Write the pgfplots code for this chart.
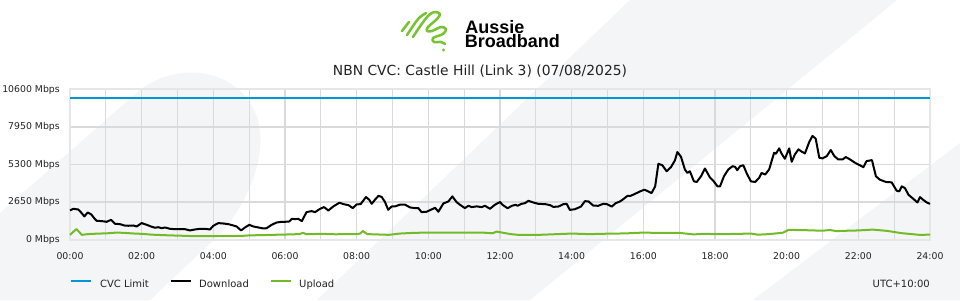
\documentclass[border=0pt]{standalone}
\usepackage{fontspec}
\setmainfont{DejaVu Sans}
\newfontfamily\logofont{Liberation Sans}
\usepackage{pgfplots}
\pgfplotsset{compat=1.18}
\definecolor{cvcblue}{RGB}{0,150,214}
\definecolor{upgreen}{RGB}{114,187,38}
\definecolor{logogreen}{RGB}{118,196,48}
\definecolor{swoosh}{RGB}{244,245,247}
\definecolor{gridgray}{RGB}{218,218,218}
\definecolor{framegray}{RGB}{230,230,230}
\definecolor{txt}{RGB}{34,34,34}

\begin{document}
\begin{tikzpicture}
\useasboundingbox (0,0) rectangle (720pt,225pt);
\fill[white] (0,0) rectangle (720pt,225pt);
\begin{scope}[yshift=225pt,x=0.75pt,y=-0.75pt]
  % background swooshes
  \fill[swoosh] (0,213) -- (140,90) .. controls (175,62) and (240,65) .. (258,120)
        .. controls (268,160) and (245,205) .. (222,232) -- (150,300) -- (0,300) -- cycle;
  \fill[swoosh] (630,0) -- (897,0) -- (530,300) -- (317,300) -- cycle;
  \fill[swoosh] (960,143) -- (960,300) -- (753,300) -- cycle;
  % logo icon
  \begin{scope}[logogreen, line width=1.9pt, line cap=round, line join=round]
    \draw (402,31) -- (409,22);
    \draw plot[smooth, tension=0.6] coordinates {(407,35) (413,26) (419,18) (426,13)};
    \draw plot[smooth, tension=0.55] coordinates {(413,37) (421,25) (429,15) (435,12) (440,14) (437,19) (428,27) (427,31) (432,31) (441,27) (446,29) (443,34) (433,38) (434,42) (441,42) (445,44)};
    \fill (443.5,50) circle (1.3pt);
  \end{scope}
  \node[anchor=base west, inner sep=0pt, font=\logofont\bfseries\fontsize{13.5}{14}\selectfont] at (465,33.3) {Aussie};
  \node[anchor=base west, inner sep=0pt, font=\logofont\bfseries\fontsize{13.5}{14}\selectfont] at (464.5,47.7) {Broadband};
  % title
  \node[anchor=base, inner sep=0pt, text=txt, font=\fontsize{10.4}{12}\selectfont] at (480,75.5) {NBN CVC: Castle Hill (Link 3) (07/08/2025)};
\end{scope}

\begin{axis}[
  at={(52.5pt,45.375pt)}, anchor=south west,
  scale only axis, width=645pt, height=112.5pt,
  xmin=0, xmax=24, ymin=0, ymax=10600,
  scaled y ticks=false, scaled x ticks=false,
  xtick={0,2,...,24}, minor xtick={1,3,...,23},
  xticklabels={00:00,02:00,04:00,06:00,08:00,10:00,12:00,14:00,16:00,18:00,20:00,22:00,24:00},
  ytick={0,2650,5300,7950,10600},
  yticklabels={0 Mbps,2650 Mbps,5300 Mbps,7950 Mbps,10600 Mbps},
  grid=both,
  major grid style={gridgray, line width=0.9pt},
  minor grid style={gridgray, line width=0.9pt},
  axis line style={framegray, line width=1.5pt},
  tick style={draw=none},
  major tick length=0pt, minor tick length=0pt,
  xticklabel style={font=\fontsize{7}{8}\selectfont, text=txt, anchor=north, inner sep=0pt, yshift=-9.6pt},
  yticklabel style={font=\fontsize{7}{8}\selectfont, text=txt, anchor=east, inner sep=0pt, xshift=-7.5pt},
  legend columns=3,
  legend style={at={(0,-0.298)}, anchor=west, draw=none, fill=none, inner sep=0pt,
    font=\fontsize{7.5}{9}\selectfont, text=txt,
    /tikz/every odd column/.append style={column sep=3.75pt},
    /tikz/every even column/.append style={column sep=13.5pt}},
  legend image code/.code={\draw[#1] (0pt,2.7pt) -- (15pt,2.7pt);},
  clip=false,
]
\addplot[cvcblue, line width=1.6pt] coordinates {(0,10000) (24,10000)};
\addlegendentry{CVC Limit}
\addplot[black, line width=1.5pt, line join=round] coordinates {
(0,2050) (0.093,2170) (0.233,2120) (0.326,1865) (0.40,1630) (0.493,1910) (0.586,1790)
(0.698,1440) (0.744,1320) (0.884,1300) (1.023,1250) (1.144,1390) (1.256,1110) (1.395,1085)
(1.516,990) (1.628,970) (1.767,990) (1.860,920) (2.0,1160) (2.14,1040) (2.26,920)
(2.372,830) (2.465,870) (2.558,800) (2.651,850) (2.791,755) (2.930,730) (3.07,730)
(3.209,730) (3.349,640) (3.488,710) (3.628,755) (3.767,755) (3.907,710) (4.0,970)
(4.14,1160) (4.279,1130) (4.419,1085) (4.558,990) (4.651,920) (4.772,640) (4.884,850)
(5.005,1040) (5.116,920) (5.256,850) (5.395,780) (5.488,800) (5.628,1040) (5.767,1200)
(5.907,1250) (6.0,1250) (6.12,1275) (6.19,1460) (6.28,1440) (6.37,1460) (6.47,1300)
(6.60,1935) (6.74,2005) (6.84,1935) (6.98,2170) (7.09,2290) (7.21,2050) (7.35,2340)
(7.52,2600) (7.63,2500) (7.77,2430) (7.89,2220) (8.0,2480) (8.11,2500) (8.26,3000)
(8.35,2810) (8.42,2525) (8.51,2810) (8.61,3090) (8.70,3000) (8.79,2650) (8.88,2100)
(8.98,2340) (9.07,2340) (9.21,2460) (9.35,2460) (9.49,2265) (9.63,2220) (9.72,2220)
(9.81,1935) (9.95,1960) (10.07,2100) (10.19,2240) (10.28,1960) (10.42,2550) (10.56,2690)
(10.67,3045) (10.79,2640) (10.88,2460) (11.02,2220) (11.12,2385) (11.21,2290) (11.35,2340)
(11.49,2290) (11.58,2385) (11.72,2170) (11.86,2460) (12.0,2650) (12.07,2450) (12.21,2210)
(12.33,2380) (12.44,2450) (12.49,2380) (12.60,2520) (12.70,2570) (12.79,2735) (12.93,2615)
(13.07,2520) (13.26,2500) (13.40,2425) (13.49,2305) (13.63,2330) (13.77,2500) (13.86,2520)
(13.95,2090) (14.09,2140) (14.26,2330) (14.37,2710) (14.47,2690) (14.60,2400) (14.74,2380)
(14.88,2520) (14.98,2500) (15.12,2330) (15.23,2570) (15.35,2690) (15.44,2850) (15.56,3090)
(15.65,3090) (15.77,3230) (15.91,3400) (16.03,3520) (16.12,3420) (16.23,3280) (16.33,3755)
(16.42,5350) (16.53,5250) (16.65,4825) (16.77,5110) (16.88,5585) (16.95,6180) (17.05,5850)
(17.16,4945) (17.23,4705) (17.30,4825) (17.41,4110) (17.49,4065) (17.61,4470) (17.72,5015)
(17.86,4380) (17.95,4160) (18.07,3755) (18.14,3755) (18.25,4470) (18.37,4945) (18.49,5180)
(18.56,5135) (18.62,4900) (18.70,5180) (18.79,5250) (18.88,4705) (19.0,4110) (19.12,4065)
(19.23,4350) (19.30,4705) (19.40,4590) (19.51,4945) (19.65,6130) (19.70,6060) (19.79,6440)
(19.86,6060) (19.95,5705) (20.02,6130) (20.07,6440) (20.14,5490) (20.23,6015) (20.33,6370)
(20.42,6205) (20.51,6085) (20.63,6895) (20.72,7320) (20.81,7130) (20.91,5775) (21.0,5730)
(21.12,5895) (21.23,6325) (21.33,5895) (21.44,5655) (21.56,5655) (21.65,5825) (21.77,5655)
(21.91,5420) (22.04,5250) (22.14,5110) (22.23,5540) (22.38,5610) (22.49,4470) (22.60,4230)
(22.77,4065) (22.93,4040) (23.07,3445) (23.14,3400) (23.21,3755) (23.30,3635) (23.40,3160)
(23.51,2925) (23.65,2615) (23.72,2995) (23.81,2805) (23.91,2615) (24.0,2520)
};
\addlegendentry{Download}
\addplot[upgreen, line width=1.5pt, line join=round] coordinates {
(0,330) (0.18,740) (0.33,330) (0.5,380) (0.8,420) (1.0,430) (1.3,490) (1.5,470) (1.8,420)
(2.0,400) (2.3,340) (2.8,290) (3.2,260) (3.5,230) (4.2,230) (4.8,255) (5.0,290) (5.5,320)
(6.0,350) (6.4,380) (6.5,470) (6.6,370) (7.0,400) (7.4,370) (8.0,380) (8.1,420) (8.17,600)
(8.3,380) (8.9,330) (9.2,420) (9.6,470) (10.0,490) (11.5,490) (11.8,440) (11.9,560)
(12.1,470) (12.3,380) (12.5,330) (13.0,320) (14.0,420) (14.5,380) (15.0,410) (15.5,430)
(16.0,490) (16.3,470) (17.0,470) (17.4,360) (17.7,400) (18.0,380) (18.5,390) (19.0,420)
(19.2,340) (19.5,380) (19.9,480) (20.05,680) (20.5,660) (21.0,620) (21.2,670) (21.4,590)
(21.7,620) (22.0,640) (22.4,700) (22.8,610) (23.2,450) (23.7,330) (24.0,340)
};
\addlegendentry{Upload}
\node[anchor=east, inner sep=0pt, text=txt, font=\fontsize{7.5}{9}\selectfont] at (rel axis cs:1,-0.298) {UTC+10:00};
\end{axis}
\end{tikzpicture}
\end{document}
